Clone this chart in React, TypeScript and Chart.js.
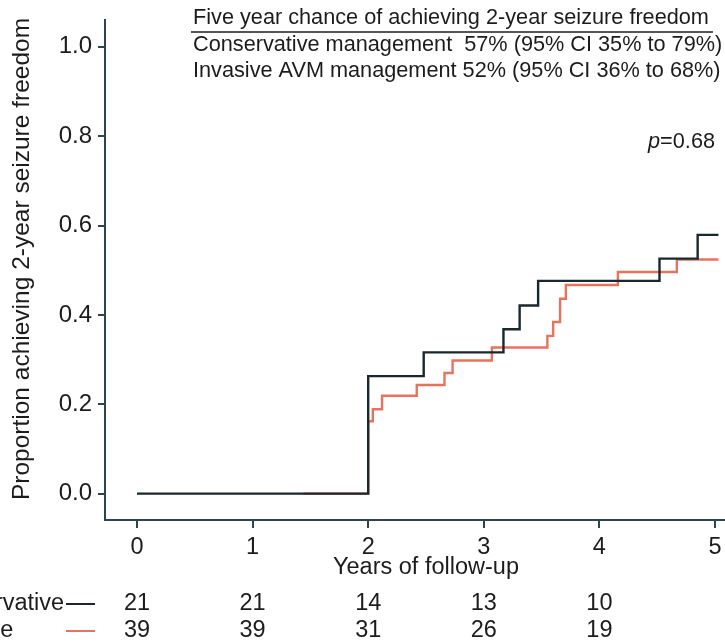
import React, { useEffect, useRef } from 'react';
import { Chart, registerables } from 'chart.js';

Chart.register(...registerables);

// ---- Data ----
const conservativeTimes = [0, 2.0, 2.48, 3.17, 3.31, 3.47, 4.52, 4.85, 5.03];
const conservativeProps = [0, 0.263, 0.316, 0.368, 0.421, 0.476, 0.526, 0.579, 0.579];
const invasiveTimes = [1.44, 2.0, 2.04, 2.12, 2.42, 2.66, 2.73, 3.07, 3.55, 3.6, 3.66, 3.71, 4.16, 4.67, 5.03];
const invasiveProps = [0, 0.162, 0.189, 0.219, 0.243, 0.27, 0.298, 0.327, 0.353, 0.384, 0.436, 0.467, 0.496, 0.524, 0.524];
const xTickValues = [0, 1, 2, 3, 4, 5];
const yTickValues = [0, 0.2, 0.4, 0.6, 0.8, 1.0];
const riskTimes = [0, 1, 2, 3, 4];
const conservativeAtRisk = [21, 21, 14, 13, 10];
const invasiveAtRisk = [39, 39, 31, 26, 19];
const groupLabels = ['Conservative', 'Invasive'];
const legendTitle = 'Five year chance of achieving 2-year seizure freedom';
const legendLines = [
  'Conservative management  57% (95% CI 35% to 79%)',
  'Invasive AVM management 52% (95% CI 36% to 68%)',
];
const pValueText = '=0.68';
const xTitle = 'Years of follow-up';
const yTitle = 'Proportion achieving 2-year seizure freedom';

// ---- Styles ----
const FONT = "'Liberation Sans', Arial, Helvetica, sans-serif";
const TEXT = '#1c1c1c';
const AXIS = '#2c4550';
const DARK = '#18282e';
const ORANGE = '#e6745c';
const OFF = 80; // canvas extends 80px left of the page
const CW = 830;
const CH = 644;

const overlayPlugin = {
  id: 'kmOverlay',
  afterDraw(chart: any) {
    const { ctx, chartArea, scales } = chart;
    const xs = scales.x;
    ctx.save();
    ctx.fillStyle = TEXT;
    ctx.textBaseline = 'middle';

    // y-axis title
    ctx.save();
    ctx.translate(OFF + 22, 259);
    ctx.rotate(-Math.PI / 2);
    ctx.textAlign = 'center';
    ctx.font = `24.5px ${FONT}`;
    ctx.fillText(yTitle, 0, 0);
    ctx.restore();

    // x-axis title
    ctx.font = `23.5px ${FONT}`;
    ctx.textAlign = 'center';
    ctx.fillText(xTitle, (chartArea.left + chartArea.right) / 2, 568);

    // numbers at risk
    const rows = [
      { label: groupLabels[0], vals: conservativeAtRisk, color: DARK, y: 604 },
      { label: groupLabels[1], vals: invasiveAtRisk, color: ORANGE, y: 631 },
    ];
    rows.forEach((r) => {
      ctx.textAlign = 'left';
      ctx.fillStyle = TEXT;
      ctx.font = `23.5px ${FONT}`;
      ctx.fillText(r.label, OFF - 73, r.y);
      ctx.strokeStyle = r.color;
      ctx.lineWidth = 2;
      ctx.beginPath();
      ctx.moveTo(OFF + 66, r.y);
      ctx.lineTo(OFF + 95, r.y);
      ctx.stroke();
      ctx.textAlign = 'center';
      r.vals.forEach((v, i) => {
        ctx.fillText(String(v), xs.getPixelForValue(riskTimes[i]), r.y);
      });
    });

    // legend text block
    ctx.textAlign = 'left';
    ctx.font = `21.7px ${FONT}`;
    const lx = OFF + 193;
    ctx.fillText(legendTitle, lx, 18);
    const tw = ctx.measureText(legendTitle).width;
    ctx.strokeStyle = TEXT;
    ctx.lineWidth = 1.3;
    ctx.beginPath();
    ctx.moveTo(lx - 2, 32);
    ctx.lineTo(lx + tw + 4, 32);
    ctx.stroke();
    ctx.fillText(legendLines[0], lx, 45);
    ctx.fillText(legendLines[1], lx, 71);

    // p-value
    ctx.textAlign = 'right';
    const px = OFF + 715;
    ctx.font = `21.7px ${FONT}`;
    const w = ctx.measureText(pValueText).width;
    ctx.fillText(pValueText, px, 142);
    ctx.font = `italic 21.7px ${FONT}`;
    ctx.fillText('p', px - w, 142);
    ctx.restore();
  },
};

export default function App() {
  const ref = useRef<HTMLCanvasElement | null>(null);

  useEffect(() => {
    if (!ref.current) return;
    const chart = new Chart(ref.current, {
      type: 'line',
      data: {
        datasets: [
          {
            label: 'Conservative',
            data: conservativeTimes.map((t, i) => ({ x: t, y: conservativeProps[i] })),
            borderColor: DARK,
            borderWidth: 2.4,
            pointRadius: 0,
            stepped: 'before',
            fill: false,
          },
          {
            label: 'Invasive',
            data: invasiveTimes.map((t, i) => ({ x: t, y: invasiveProps[i] })),
            borderColor: ORANGE,
            borderWidth: 2.4,
            pointRadius: 0,
            stepped: 'before',
            fill: false,
          },
        ],
      },
      options: {
        responsive: false,
        animation: false,
        events: [],
        layout: { padding: { left: OFF, right: 3, top: 10, bottom: 0 } },
        plugins: {
          legend: { display: false },
          tooltip: { enabled: false },
          title: { display: false },
        },
        scales: {
          x: {
            type: 'linear',
            min: -0.277,
            max: 5.277,
            afterBuildTicks: (s: any) => {
              s.ticks = xTickValues.map((v) => ({ value: v }));
            },
            afterFit: (s: any) => {
              s.height = CH - 520;
            },
            ticks: {
              color: TEXT,
              font: { family: FONT, size: 23.5 },
              padding: 5,
              maxRotation: 0,
              callback: (v: any) => String(v),
            },
            grid: {
              display: true,
              drawOnChartArea: false,
              drawTicks: true,
              tickLength: 8,
              color: AXIS,
              lineWidth: 2,
            },
            border: { display: true, color: AXIS, width: 2 },
          },
          y: {
            type: 'linear',
            min: -0.059,
            max: 1.059,
            afterBuildTicks: (s: any) => {
              s.ticks = yTickValues.map((v) => ({ value: v }));
            },
            afterFit: (s: any) => {
              s.width = 105;
            },
            ticks: {
              color: TEXT,
              font: { family: FONT, size: 24 },
              padding: 6,
              callback: (v: any) => Number(v).toFixed(1),
            },
            grid: {
              display: true,
              drawOnChartArea: false,
              drawTicks: true,
              tickLength: 7,
              color: AXIS,
              lineWidth: 2,
            },
            border: { display: true, color: AXIS, width: 2 },
          },
        },
      },
      plugins: [overlayPlugin],
    });
    return () => chart.destroy();
  }, []);

  return (
    <div
      style={{
        position: 'fixed',
        left: 0,
        top: 0,
        width: 725,
        height: 644,
        overflow: 'hidden',
        background: '#fff',
      }}
    >
      <canvas
        ref={ref}
        width={CW}
        height={CH}
        style={{ position: 'absolute', left: -OFF, top: 0, width: CW, height: CH }}
      />
    </div>
  );
}
